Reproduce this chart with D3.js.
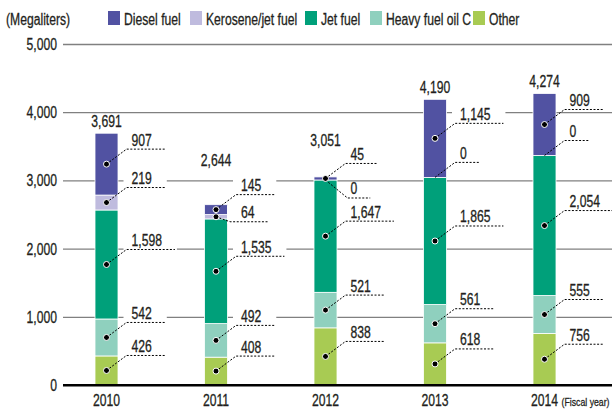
<!DOCTYPE html>
<html>
<head>
<meta charset="utf-8">
<script src="https://cdn.jsdelivr.net/npm/d3@7"></script>
<style>
  body { margin: 0; background: #fff; }
  svg text { font-family: "Liberation Sans", Arial, sans-serif; fill: #231f20; stroke: #231f20; stroke-width: 0.3; }
</style>
</head>
<body>
<div class="chart"></div>
<script>
// fiscal years and the values per fuel (megaliters)
var years = ["2010", "2011", "2012", "2013", "2014"];
var other    = [426, 408, 838, 618, 756];
var heavyOil = [542, 492, 521, 561, 555];
var jetFuel  = [1598, 1535, 1647, 1865, 2054];
var kerosene = [219, 64, 0, 0, 0];
var diesel   = [907, 145, 45, 1145, 909];
var totals   = [3691, 2644, 3051, 4190, 4274];
var yTicks   = [0, 1000, 2000, 3000, 4000, 5000];

// stacking order, bottom to top
var keys   = ["other", "heavy", "jet", "kero", "diesel"];
var names  = { diesel: "Diesel fuel", kero: "Kerosene/jet fuel", jet: "Jet fuel", heavy: "Heavy fuel oil C", other: "Other" };
var colors = { diesel: "#5152a2", kero: "#bfbbde", jet: "#00a07a", heavy: "#8fd0be", other: "#a8cb53" };
var legendOrder = ["diesel", "kero", "jet", "heavy", "other"];

var width = 612, height = 409;
var squeeze = 0.76; // condensed look from a regular face
var fs = 16;

// label tweaks where the default callout would collide
var calloutTweak = { "2011|kero": { dx: 14, dy: 5 }, "2012|kero": { dx: 22, dy: 18 } };
var totalLift = { "2011": 32, "2012": 24 };

var rows = years.map(function(yr, i) {
  return { year: yr, other: other[i], heavy: heavyOil[i], jet: jetFuel[i], kero: kerosene[i], diesel: diesel[i], total: totals[i] };
});

// narrow text placed at (x, y)
function ntext(parent, px, py, str, size, anchor) {
  return parent.append("text")
    .attr("transform", "translate(" + px + "," + py + ") scale(" + squeeze + ",1)")
    .attr("font-size", size)
    .attr("text-anchor", anchor || "start")
    .text(str);
}

var svg = d3.select(".chart").append("svg")
  .attr("width", width)
  .attr("height", height);

var x = d3.scalePoint().domain(years).range([106.5, 544.5]);
var y = d3.scaleLinear().domain([0, 5000]).range([385, 44]);
var barW = 23;
var fmt = d3.format(",");

// gridlines + tick labels
var axis = svg.append("g")
  .attr("transform", "translate(63,0)")
  .call(d3.axisLeft(y).tickValues(yTicks).tickSize(-549).tickFormat(""));
axis.select(".domain").remove();
axis.selectAll(".tick line")
  .attr("stroke", function(d) { return d === 0 ? "#000" : "#808080"; })
  .attr("stroke-width", function(d) { return d === 0 ? 2 : 1.3; });
yTicks.forEach(function(t) {
  ntext(svg, 57, y(t) + 6, fmt(t), fs, "end");
});

// bars
var stacked = d3.stack().keys(keys)(rows);
svg.append("g").selectAll("g")
  .data(stacked)
  .enter().append("g")
    .attr("fill", function(s) { return colors[s.key]; })
  .selectAll("rect")
  .data(function(s) { return s; })
  .enter().append("rect")
    .attr("x", function(d) { return x(d.data.year) - barW / 2; })
    .attr("width", barW)
    .attr("y", function(d) { return y(d[1]); })
    .attr("height", function(d) { return y(d[0]) - y(d[1]); })
    .attr("stroke", "#fff")
    .attr("stroke-width", 0.8);

// redraw the zero line over the bars' bottom edge
svg.append("line")
  .attr("x1", 63).attr("x2", width)
  .attr("y1", y(0)).attr("y2", y(0))
  .attr("stroke", "#000").attr("stroke-width", 2);

// callouts
var callouts = [];
stacked.forEach(function(s) {
  s.forEach(function(d) {
    var yr = d.data.year;
    var t = calloutTweak[yr + "|" + s.key] || { dx: 20, dy: -15 };
    var cx = x(yr);
    var cy = y((d[0] + d[1]) / 2);
    callouts.push({
      value: d.data[s.key], cx: cx, cy: cy,
      ex: cx + t.dx, ey: cy + t.dy,
      tx: cx + 25
    });
  });
});

var bgLayer = svg.append("g");
var lineLayer = svg.append("g");
var textLayer = svg.append("g");

callouts.forEach(function(c) {
  var txt = ntext(textLayer, c.tx, c.ey - 3.5, fmt(c.value), fs);
  var tw = txt.node().getComputedTextLength() * squeeze;
  c.ux = c.tx + tw + 13;
  bgLayer.append("rect")
    .attr("x", c.ex - 3)
    .attr("y", c.ey - 16)
    .attr("width", c.ux - c.ex + 5)
    .attr("height", 18)
    .attr("fill", "#fff");
  lineLayer.append("path")
    .attr("d", "M" + c.cx + "," + c.cy + "L" + c.ex + "," + c.ey + "L" + c.ux + "," + c.ey)
    .attr("fill", "none")
    .attr("stroke", "#000")
    .attr("stroke-width", 1)
    .attr("stroke-dasharray", "2,1.6");
  if (c.value > 0) {
    lineLayer.append("circle")
      .attr("cx", c.cx).attr("cy", c.cy).attr("r", 3)
      .attr("fill", "#000").attr("stroke", "#fff").attr("stroke-width", 1);
  }
});

// totals above each bar
rows.forEach(function(d) {
  ntext(svg, x(d.year), y(d.total) - 6.5 - (totalLift[d.year] || 0), fmt(d.total), fs, "middle");
});

// x labels
years.forEach(function(yr) {
  ntext(svg, x(yr), 406, yr, fs, "middle");
});
ntext(svg, 561.5, 406, "(Fiscal year)", 11.5);

// unit + legend
ntext(svg, 6, 25, "(Megaliters)", fs);
var legendX = [108, 190, 305, 370, 473];
legendOrder.forEach(function(k, i) {
  svg.append("rect")
    .attr("x", legendX[i]).attr("y", 11)
    .attr("width", 12).attr("height", 14)
    .attr("fill", colors[k]);
  ntext(svg, legendX[i] + 16, 25, names[k], fs);
});
</script>
</body>
</html>
